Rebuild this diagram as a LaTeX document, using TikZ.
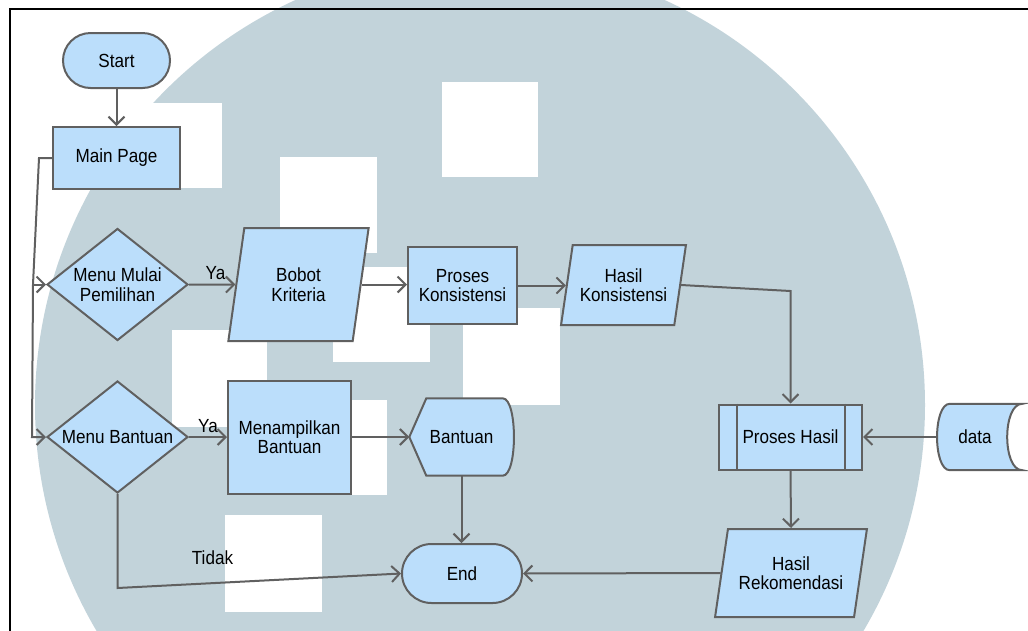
\documentclass[tikz,border=0pt]{standalone}
\usepackage{fontspec}
\setmainfont{Liberation Sans}[FakeStretch=0.9]
\usetikzlibrary{shapes.geometric,arrows.meta,calc}
\definecolor{wm}{RGB}{194,211,218}
\definecolor{nodefill}{RGB}{187,222,251}
\definecolor{edgegray}{RGB}{96,96,96}
\pgfdeclarelayer{wmlayer}
\pgfdeclarelayer{shapelayer}
\pgfsetlayers{wmlayer,shapelayer,main}
\begin{document}
\begin{tikzpicture}[x=1pt,y=-1pt,
  every node/.style={font=\fontsize{19}{19.5}\selectfont, text=black},
  base/.style={draw=edgegray, fill=nodefill, line width=2pt, inner sep=0pt, align=center},
  term/.style={base, rectangle, rounded corners=#1},
  proc/.style={base, rectangle},
  decision/.style={base, diamond, aspect=1.26, minimum width=141pt, minimum height=112pt},
  io/.style 2 args={base, trapezium, trapezium left angle=#1, trapezium right angle=#2, trapezium stretches=true},
  plain/.style={inner sep=0pt, align=center},
  shapefill/.style={draw=edgegray, fill=nodefill, line width=2pt},
  line/.style={draw=edgegray, line width=2pt},
  arr/.style={line, -{Straight Barb[length=8pt,width=16pt]}},
  lbl/.style={inner sep=0pt}
]
\useasboundingbox (0,0) rectangle (1028,630);
% watermark
\begin{pgfonlayer}{wmlayer}
\begin{scope}
\clip (0,0) rectangle (1028,630);
\fill[wm] (480,405) circle[radius=445pt];
\fill[white] (127,103) rectangle (222,188);
\fill[white] (280,157) rectangle (377,253);
\fill[white] (442,82) rectangle (538,177);
\fill[white] (333,267) rectangle (430,362);
\fill[white] (463,308) rectangle (560,405);
\fill[white] (172,330) rectangle (267,427);
\fill[white] (291,400) rectangle (387,495);
\fill[white] (225,515) rectangle (322,612);
\end{scope}
\end{pgfonlayer}

% nodes
\node[term=27.5pt, minimum width=107pt, minimum height=55pt] (start) at (116.5,60.5) {Start};
\node[proc, minimum width=127pt, minimum height=62pt] (main) at (116.5,158) {Main Page};
\node[decision] (mm) at (117.5,284.5) {Menu Mulai\\Pemilihan};
\node[io={76.6}{103.4}, minimum width=141pt, minimum height=113pt] (bobot) at (298.5,284.5) {Bobot\\Kriteria};
\node[proc, minimum width=109pt, minimum height=77pt] (pk) at (462.5,285.5) {Proses\\Konsistensi};
\node[io={73.3}{106.7}, minimum width=125pt, minimum height=80pt] (hk) at (623.5,285) {Hasil\\Konsistensi};
\node[decision] (mb) at (117.5,437) {Menu Bantuan};
\node[proc, minimum width=123pt, minimum height=113pt] (tampil) at (289.5,437) {Menampilkan\\Bantuan};
\node[plain, minimum width=104pt, minimum height=77pt] (bantuan) at (461.5,437) {Bantuan};
\node[term=29.5pt, minimum width=120pt, minimum height=59pt] (end) at (462,573.5) {End};
\node[proc, minimum width=143pt, minimum height=65pt] (ph) at (790.5,437) {Proses Hasil};
\node[plain, minimum width=76pt, minimum height=66pt] (data) at (975,437) {data};
\node[io={72.3}{107.7}, minimum width=152pt, minimum height=88pt] (hr) at (791,573) {Hasil\\Rekomendasi};

% custom shapes
\begin{pgfonlayer}{shapelayer}
\path[shapefill] (bantuan.west) -- ($(bantuan.north west)+(17,0)$) -- ($(bantuan.north east)+(-11,0)$)
  .. controls ($(bantuan.north east)+(4,0)$) and ($(bantuan.south east)+(4,0)$) .. ($(bantuan.south east)+(-11,0)$)
  -- ($(bantuan.south west)+(17,0)$) -- cycle;
\path[shapefill] ($(data.north west)+(13,0)$) -- ($(data.north east)+(9,0)$)
  .. controls ($(data.north east)+(-11,0)$) and ($(data.south east)+(-11,0)$) .. ($(data.south east)+(9,0)$)
  -- ($(data.south west)+(13,0)$)
  .. controls ($(data.south west)+(-4,0)$) and ($(data.north west)+(-4,0)$) .. ($(data.north west)+(13,0)$) -- cycle;
\end{pgfonlayer}
\draw[line] ([xshift=19pt]ph.north west) -- ([xshift=19pt]ph.south west);
\draw[line] ([xshift=-18pt]ph.north east) -- ([xshift=-18pt]ph.south east);

% labels
\node[lbl] (ya1) at (215.5,273.5) {Ya};
\node[lbl] (ya2) at (208,426) {Ya};
\node[lbl] (tidak) at (212.5,558) {Tidak};

% connectors
\coordinate (c1) at (39,158);
\coordinate (c2) at (33,284.5);
\coordinate (c3) at (32,437);
\coordinate (c4) at (790.5,291);
\coordinate (c5) at (117.5,588);
\draw[arr] (start) -- (main);
\draw[arr] (main.west) -- (c1) -- (c2) -- (c3) -- (mb.west);
\draw[arr] (c2) -- (mm.west);
\draw[arr] (mm.east) -- (bobot.west);
\draw[arr] (bobot.east) -- (pk.west |- bobot.east);
\draw[arr] (pk.east) -- (hk.west |- pk.east);
\draw[arr] (hk.east) -- (c4) -- (ph.north);
\draw[arr] (mb.east) -- (tampil.west);
\draw[arr] (tampil.east) -- (bantuan.west);
\draw[arr] (bantuan.south) -- (bantuan.south |- end.north);
\draw[arr] (mb.south) -- (c5) -- (end.west);
\draw[arr] (data.west) -- (ph.east);
\draw[arr] (ph.south) -- (hr.north);
\draw[arr] (hr.west) -- (end.east);

% frame
\draw[black, line width=2pt] (9.5,632) -- (9.5,8.5) -- (1030,8.5);
\end{tikzpicture}
\end{document}
